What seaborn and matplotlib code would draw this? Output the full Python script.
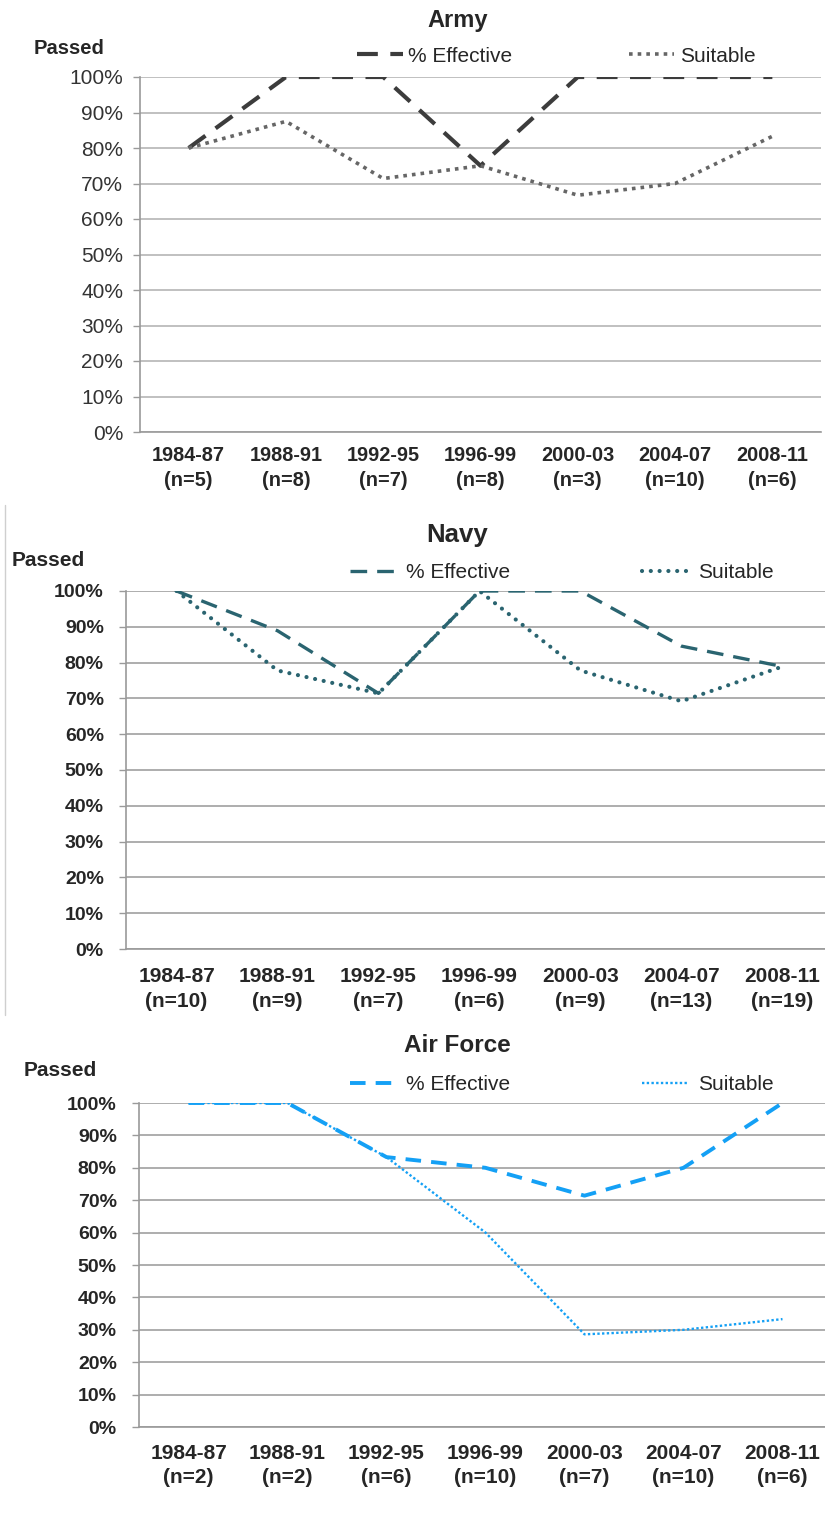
import pandas as pd
import matplotlib
matplotlib.use("Agg")
import matplotlib.pyplot as plt
from matplotlib.lines import Line2D
from matplotlib.ticker import PercentFormatter, FixedLocator
import seaborn as sns

# data
periods = ["1984-87", "1988-91", "1992-95", "1996-99", "2000-03", "2004-07", "2008-11"]

army_n = [5, 8, 7, 8, 3, 10, 6]
army_effective = [0.80, 1.00, 1.00, 0.75, 1.00, 1.00, 1.00]
army_suitable = [0.80, 0.875, 0.714, 0.75, 0.667, 0.70, 0.833]

navy_n = [10, 9, 7, 6, 9, 13, 19]
navy_effective = [1.00, 0.889, 0.714, 1.00, 1.00, 0.846, 0.789]
navy_suitable = [1.00, 0.778, 0.714, 1.00, 0.778, 0.692, 0.789]

af_n = [2, 2, 6, 10, 7, 10, 6]
af_effective = [1.00, 1.00, 0.833, 0.80, 0.714, 0.80, 1.00]
af_suitable = [1.00, 1.00, 0.833, 0.60, 0.286, 0.30, 0.333]

sns.set_style("white")
plt.rcParams['font.family'] = ['Liberation Sans', 'DejaVu Sans']

W, H = 825, 1528
fig = plt.figure(figsize=(W / 100, H / 100), dpi=100)


def px_axes(left, right, top, bottom):
    return fig.add_axes([left / W, 1 - bottom / H, (right - left) / W, (bottom - top) / H])


def draw_panel(ax, n, eff, suit, eff_style, suit_style, ylab_bold, ysize, xsize,
               grid_color, xpad, ypad):
    df = pd.DataFrame({
        'Period': periods * 2,
        'Value': eff + suit,
        'Series': ['% Effective'] * len(eff) + ['Suitable'] * len(suit),
    })
    for name, st in [('% Effective', eff_style), ('Suitable', suit_style)]:
        sns.lineplot(data=df[df['Series'] == name], x='Period', y='Value', sort=False,
                     color=st['color'], linewidth=st['lw'], label=name, ax=ax,
                     dashes=False, errorbar=None)
        line = ax.get_lines()[-1]
        line.set_dashes(st['dashes'])
        line.set_dash_capstyle(st.get('cap', 'butt'))
    ax.set_xlim(-0.5, len(periods) - 0.5)
    ax.set_ylim(0, 1)
    ax.yaxis.set_major_locator(FixedLocator([i / 10 for i in range(11)]))
    ax.yaxis.set_major_formatter(PercentFormatter(1.0, decimals=0))
    ax.set_xticks(range(len(periods)))
    ax.set_xticklabels([f"{p}\n(n={k})" for p, k in zip(periods, n)],
                       fontsize=xsize, fontweight='bold', linespacing=1.38)
    ax.set_xticks([i - 0.5 for i in range(len(periods) + 1)], minor=True)
    ax.tick_params(axis='x', which='major', length=0, pad=xpad)
    ax.tick_params(axis='x', which='minor', length=5, color='#9a9a9a', width=1, direction='out')
    ax.tick_params(axis='y', length=5, color='#9a9a9a', width=1, direction='out', pad=ypad,
                   labelsize=ysize, left=True)
    for lab in ax.get_yticklabels():
        lab.set_fontweight('bold' if ylab_bold else 'normal')
    ax.grid(axis='y', color=grid_color, linewidth=1.2)
    ax.set_axisbelow(True)
    for s in ['top', 'right']:
        ax.spines[s].set_visible(False)
    for s in ['left', 'bottom']:
        ax.spines[s].set_color('#9a9a9a')
        ax.spines[s].set_linewidth(1.2)
    ax.set_xlabel('')
    ax.set_ylabel('')
    ax.get_legend().remove()


def panel_legend(ax, cx, cy, colspace=6.3, textpad=0.5):
    handles, labels = ax.get_legend_handles_labels()
    fig.legend(handles, labels, loc='center', bbox_to_anchor=(cx / W, 1 - cy / H),
               bbox_transform=fig.transFigure, ncol=2, frameon=False, fontsize=15,
               handlelength=2.2, handletextpad=textpad, columnspacing=colspace)


# Army
ax1 = px_axes(140, 821, 77, 432)
draw_panel(ax1, army_n, army_effective, army_suitable,
           {'color': '#3c3c3c', 'lw': 3.0, 'dashes': (5, 3)},
           {'color': '#666666', 'lw': 2.6, 'dashes': (1, 1.4)},
           False, 15, 14.3, '#b5b5b5', 10, 7)
for lab in ax1.get_yticklabels():
    lab.set_color('#333333')
panel_legend(ax1, 556, 56, colspace=5.6, textpad=0.25)
fig.text(458 / W, 1 - 20 / H, 'Army', ha='center', va='center', fontsize=17, fontweight='bold')
fig.text(34 / W, 1 - 48 / H, 'Passed', ha='left', va='center', fontsize=14.5, fontweight='bold')

# Navy
ax2 = px_axes(126, 833, 591, 949)
navy = '#2a6470'
draw_panel(ax2, navy_n, navy_effective, navy_suitable,
           {'color': navy, 'lw': 2.4, 'dashes': (5, 3)},
           {'color': navy, 'lw': 3.0, 'dashes': (0.01, 2.1), 'cap': 'round'},
           True, 14, 15, '#a0a0a0', 13, 11)
panel_legend(ax2, 562, 573)
fig.text(457 / W, 1 - 535 / H, 'Navy', ha='center', va='center', fontsize=18.5, fontweight='bold')
fig.text(12 / W, 1 - 561 / H, 'Passed', ha='left', va='center', fontsize=15, fontweight='bold')
fig.add_artist(Line2D([5 / W, 5 / W], [1 - 505 / H, 1 - 1015 / H], color='#cfcfcf', lw=1))

# Air Force
ax3 = px_axes(139, 832, 1103, 1427)
blue = '#14a0f5'
draw_panel(ax3, af_n, af_effective, af_suitable,
           {'color': blue, 'lw': 2.8, 'dashes': (4, 2.6)},
           {'color': blue, 'lw': 1.7, 'dashes': (1, 1)},
           True, 14, 15, '#a0a0a0', 12, 11)
panel_legend(ax3, 562, 1085)
fig.text(457 / W, 1 - 1045 / H, 'Air Force', ha='center', va='center', fontsize=17.5, fontweight='bold')
fig.text(24 / W, 1 - 1071 / H, 'Passed', ha='left', va='center', fontsize=15, fontweight='bold')

fig.savefig('out.png', dpi=100)
